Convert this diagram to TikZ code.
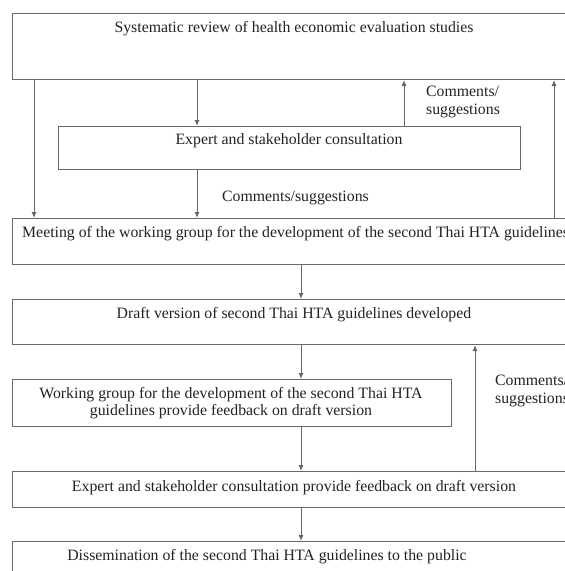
\documentclass[tikz,border=0pt]{standalone}
\usepackage{fontspec}
\setmainfont{Liberation Serif}
\usetikzlibrary{arrows.meta}
\definecolor{linegray}{HTML}{686868}
\definecolor{textgray}{HTML}{222222}
\tikzset{
  box/.style={draw=linegray, line width=1pt, rectangle, inner sep=0pt, anchor=north west},
  txt/.style={text=textgray, font=\fontsize{15.8}{17.5}\selectfont, inner sep=0pt},
  arr/.style={draw=linegray, line width=1pt, -{Latex[length=6pt,width=5pt]}}
}
\begin{document}
\begin{tikzpicture}[x=1pt,y=1pt]
\useasboundingbox (0,0) rectangle (565,-571);
\clip (0,0) rectangle (565,-571);
% boxes
\node[box, minimum width=564pt, minimum height=66pt] (b1) at (12,-13) {};
\node[box, minimum width=462pt, minimum height=43pt] (b2) at (58,-126) {};
\node[box, minimum width=564pt, minimum height=46pt] (b3) at (12,-218) {};
\node[box, minimum width=564pt, minimum height=45pt] (b4) at (12,-299) {};
\node[box, minimum width=439pt, minimum height=47pt] (b5) at (12,-379) {};
\node[box, minimum width=564pt, minimum height=36pt] (b6) at (12,-471) {};
\node[box, minimum width=564pt, minimum height=60pt] (b7) at (12,-541) {};
% texts
\node[txt, anchor=base] (t1) at (294,-32) {Systematic review of health economic evaluation studies};
\node[txt, anchor=base] (t2) at (289,-144) {Expert and stakeholder consultation};
\node[txt, anchor=base west] (t3) at (22,-237) {Meeting of the working group for the development of the second Thai HTA guidelines};
\node[txt, anchor=base] (t4) at (294,-318) {Draft version of second Thai HTA guidelines developed};
\node[txt, align=center] (t5) at (231,-403) {Working group for the development of the second Thai HTA\\guidelines provide feedback on draft version};
\node[txt, anchor=base] (t6) at (294,-491) {Expert and stakeholder consultation provide feedback on draft version};
\node[txt, anchor=base] (t7) at (267,-560) {Dissemination of the second Thai HTA guidelines to the public};
% labels
\node[txt, anchor=west, align=left] (l1) at (426,-102) {Comments/\\suggestions};
\node[txt, anchor=base west] (l2) at (222,-201) {Comments/suggestions};
\node[txt, anchor=west, align=left] (l3) at (495,-391) {Comments/\\suggestions};
% columns
\coordinate (cA) at (34,0);
\coordinate (cB) at (197,0);
\coordinate (cC) at (404,0);
\coordinate (cD) at (554,0);
\coordinate (cE) at (301,0);
\coordinate (cF) at (475,0);
% connectors
\draw[arr] (b1.south -| cA) -- (b3.north -| cA);
\draw[arr] (b1.south -| cB) -- (b2.north -| cB);
\draw[arr] (b2.south -| cB) -- (b3.north -| cB);
\draw[arr] (b2.north -| cC) -- (b1.south -| cC);
\draw[arr] (b3.north -| cD) -- (b1.south -| cD);
\draw[arr] (b3.south -| cE) -- (b4.north -| cE);
\draw[arr] (b4.south -| cE) -- (b5.north -| cE);
\draw[arr] (b5.south -| cE) -- (b6.north -| cE);
\draw[arr] (b6.south -| cE) -- (b7.north -| cE);
\draw[arr] (b6.north -| cF) -- (b4.south -| cF);
\end{tikzpicture}
\end{document}
